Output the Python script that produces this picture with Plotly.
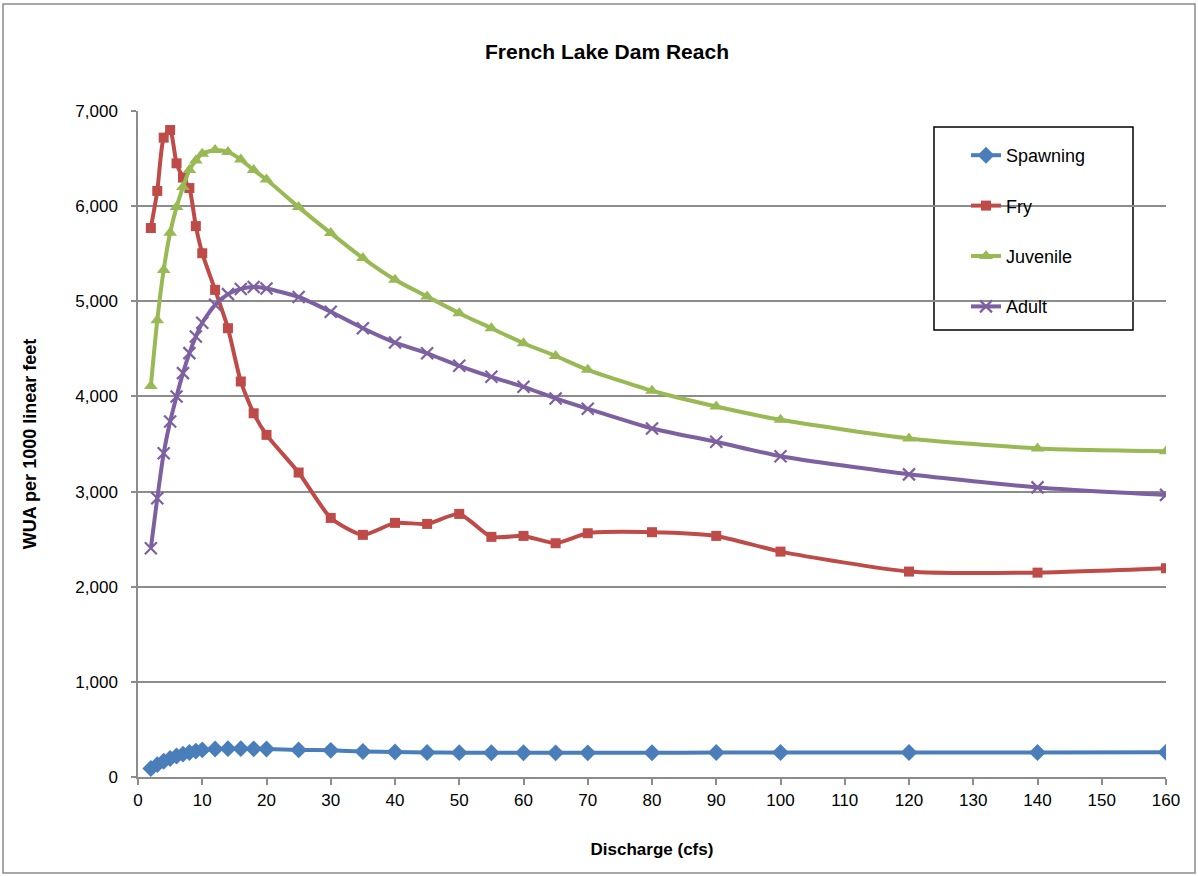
import plotly.graph_objects as go

# Discharge values (cfs)
discharge = [2, 3, 4, 5, 6, 7, 8, 9, 10, 12, 14, 16, 18, 20, 25, 30, 35, 40, 45,
             50, 55, 60, 65, 70, 80, 90, 100, 120, 140, 160]

# Weighted usable area per 1000 linear feet, by life stage
spawning = [90, 130, 165, 195, 220, 240, 258, 272, 285, 295, 298, 298, 296, 294,
            285, 280, 268, 262, 258, 256, 255, 255, 254, 254, 255, 257, 258, 258, 258, 260]
fry = [5770, 6160, 6720, 6800, 6450, 6300, 6190, 5790, 5505, 5120, 4717, 4157, 3823, 3596,
       3200, 2723, 2545, 2671, 2660, 2765, 2524, 2534, 2457, 2562, 2573, 2534, 2369, 2159, 2148, 2194]
juvenile = [4110, 4800, 5330, 5720, 5990, 6200, 6380, 6480, 6550, 6590, 6570, 6490, 6380, 6280,
            5990, 5717, 5454, 5226, 5050, 4875, 4717, 4559, 4425, 4280, 4060, 3894, 3754, 3559, 3454, 3425]
adult = [2405, 2930, 3403, 3736, 4000, 4245, 4455, 4630, 4775, 4963, 5075, 5130, 5150, 5135,
         5045, 4890, 4717, 4566, 4453, 4322, 4206, 4101, 3979, 3870, 3663, 3523, 3372, 3181, 3044, 2965]

series = [
    ("Spawning", spawning, "#4A7EBB", dict(symbol="diamond", size=13)),
    ("Fry", fry, "#BE4B48", dict(symbol="square", size=10)),
    ("Juvenile", juvenile, "#98B954", dict(symbol="triangle-up", size=12)),
    ("Adult", adult, "#7D60A0", dict(symbol="x-thin", size=12)),
]

FONT = "Liberation Sans, Arial, sans-serif"
GRID = "#8C8C8C"

fig = go.Figure()
for i, (name, vals, color, mk) in enumerate(series):
    marker = dict(color=color, **mk)
    if mk["symbol"] == "x-thin":
        marker["line"] = dict(color=color, width=2.2)
    fig.add_trace(go.Scatter(
        x=discharge, y=vals, name=name, mode="lines+markers",
        line=dict(color=color, width=4, shape="spline", smoothing=0.6),
        marker=marker, legendgroup=f"g{i}",
    ))

# plot-area geometry in pixels, used to place the chart frame and legend box
L, R, T, B = 138, 1166, 111, 777
W, H = 1198, 876
pw, ph = R - L, B - T


def px_x(v):
    return (v - L) / pw


def px_y(v):
    return (B - v) / ph


fig.update_layout(
    width=W, height=H,
    margin=dict(l=L, r=W - R, t=T, b=H - B),
    paper_bgcolor="white", plot_bgcolor="white",
    font=dict(family=FONT, size=15, color="black"),
    title=dict(text="<b>French Lake Dam Reach</b>", font=dict(size=21, family=FONT),
               x=607 / W, xref="container", xanchor="center",
               y=1 - 52 / H, yref="container", yanchor="middle"),
    xaxis=dict(range=[0, 160], dtick=10, tick0=0, showgrid=False,
               showline=True, linecolor=GRID, linewidth=1.5,
               ticks="outside", ticklen=6, tickcolor=GRID, tickwidth=1.5,
               tickfont=dict(size=17), ticklabelstandoff=1,
               title=dict(text="<b>Discharge (cfs)</b>", font=dict(size=17), standoff=34),
               zeroline=False),
    yaxis=dict(range=[0, 7000], dtick=1000, tickformat=",",
               showgrid=True, gridcolor=GRID, gridwidth=1.5,
               showline=True, linecolor=GRID, linewidth=1.5,
               ticks="outside", ticklen=5, tickcolor=GRID, tickwidth=1.5,
               tickfont=dict(size=17), ticklabelstandoff=10,
               title=dict(text="<b>WUA per 1000 linear feet</b>", font=dict(size=18), standoff=34),
               zeroline=False),
    legend=dict(x=px_x(966), y=px_y(137), xanchor="left", yanchor="top",
                bgcolor="rgba(0,0,0,0)", borderwidth=0,
                font=dict(size=18), tracegroupgap=24, itemwidth=30),
    showlegend=True,
    shapes=[
        # legend frame
        dict(type="rect", xref="paper", yref="paper",
             x0=px_x(934), x1=px_x(1133), y0=px_y(330), y1=px_y(127),
             line=dict(color="black", width=1.5), fillcolor="rgba(0,0,0,0)", layer="below"),
        # outer chart frame
        dict(type="rect", xref="paper", yref="paper",
             x0=px_x(3), x1=px_x(1195), y0=px_y(873), y1=px_y(4),
             line=dict(color="#8C8C8C", width=1.5), fillcolor="rgba(0,0,0,0)"),
    ],
)

fig.write_html("out.html")
